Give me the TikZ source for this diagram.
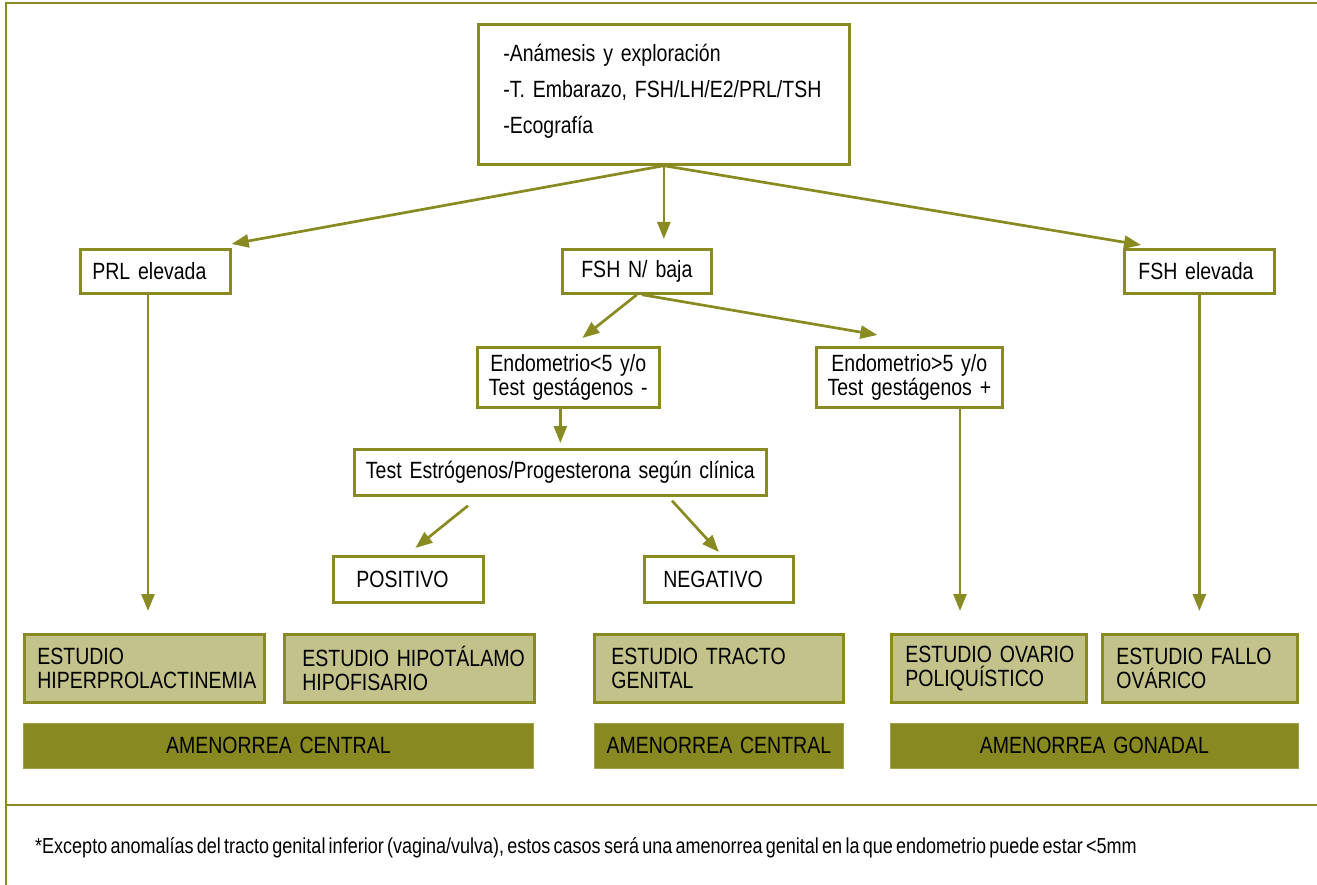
\documentclass[tikz,border=0pt]{standalone}
\usepackage{fontspec}
\setmainfont{Liberation Sans}[FakeStretch=0.83,WordSpace=0.65]
\usetikzlibrary{arrows.meta,calc}
\definecolor{oliveline}{RGB}{138,138,35}
\definecolor{olivelight}{RGB}{194,194,138}
\definecolor{olivebar}{RGB}{137,137,33}
\newcommand\mainsz{\fontsize{23.5}{24}\selectfont}
\newcommand\notesz{\fontsize{21.7}{24}\selectfont}
\tikzset{
  bx/.style={draw=oliveline, line width=2.7pt, fill=white, anchor=north west, inner ysep=0pt, font=\mainsz},
  studybox/.style={bx, fill=olivelight},
  barbox/.style={fill=olivebar, draw=olivebar!80!white, line width=0.8pt, anchor=north west, inner sep=0pt, font=\mainsz, align=center},
  arr/.style={draw=oliveline, line width=2.7pt, -{Triangle[length=17pt,width=13pt]}},
  frameline/.style={draw=oliveline, line width=2.7pt}
}
\begin{document}
\begin{tikzpicture}[x=1pt,y=-1pt]
\useasboundingbox (0,0) rectangle (1317,885);
% frame
\draw[frameline] (6,886) -- (6,3) -- (1318,3);
\draw[frameline] (6,805) -- (1318,805);
% top box
\node[bx, minimum width=371, minimum height=140, inner xsep=25pt, text width=321pt, align=left] (top) at (477,23)
  {\mbox{-Anámesis y exploración}\\[12pt]\mbox{-T. Embarazo, FSH/LH/E2/PRL/TSH}\\[12pt]-Ecografía\\[-14pt]\mbox{}};
% second level
\node[bx, minimum width=150, minimum height=44, inner xsep=12pt, text width=126pt, align=left] (prl) at (79,248) {PRL elevada};
\node[bx, minimum width=149, minimum height=44, inner xsep=4pt, text width=141pt, align=center] (fshn) at (561,248) {FSH N/ baja};
\node[bx, minimum width=150, minimum height=44, inner xsep=14pt, text width=122pt, align=left] (fshe) at (1123,248) {FSH elevada};
% third level
\node[bx, minimum width=182, minimum height=60, inner xsep=4pt, text width=174pt, align=center] (endo1) at (476,346) {Endometrio<5 y/o\\Test gestágenos -};
\node[bx, minimum width=186, minimum height=60, inner xsep=4pt, text width=178pt, align=center] (endo2) at (815,346) {Endometrio>5 y/o\\Test gestágenos +};
\node[bx, minimum width=412, minimum height=46, inner xsep=4pt, text width=404pt, align=center] (test) at (353,448) {Test Estrógenos/Progesterona según clínica};
\node[bx, minimum width=150, minimum height=46, inner xsep=23pt, text width=104pt, align=left] (pos) at (332,555) {POSITIVO};
\node[bx, minimum width=149, minimum height=46, inner xsep=19pt, text width=111pt, align=left] (neg) at (643,555) {NEGATIVO};
% study boxes
\node[studybox, minimum width=240, minimum height=68, inner xsep=13pt, text width=214pt, align=left] (e1) at (23,633) {\mbox{ESTUDIO}\\\mbox{HIPERPROLACTINEMIA}};
\node[studybox, minimum width=250, minimum height=68, inner xsep=18pt, text width=214pt, align=left] (e2) at (283,633) {\mbox{ESTUDIO HIPOTÁLAMO}\\\mbox{HIPOFISARIO}};
\node[studybox, minimum width=249, minimum height=68, inner xsep=17pt, text width=215pt, align=left] (e3) at (593,633) {\mbox{ESTUDIO TRACTO}\\\mbox{GENITAL}};
\node[studybox, minimum width=195, minimum height=68, inner xsep=14pt, text width=167pt, align=left] (e4) at (890,633) {\mbox{ESTUDIO OVARIO}\\\mbox{POLIQUÍSTICO}};
\node[studybox, minimum width=195, minimum height=68, inner xsep=14pt, text width=167pt, align=left] (e5) at (1101,633) {\mbox{ESTUDIO FALLO}\\\mbox{OVÁRICO}};
% bars
\node[barbox, minimum width=510, minimum height=45, text width=510pt] (b1) at (23,723) {AMENORREA CENTRAL};
\node[barbox, minimum width=249, minimum height=45, text width=249pt] (b2) at (594,723) {AMENORREA CENTRAL};
\node[barbox, minimum width=408, minimum height=45, text width=408pt] (b3) at (890,723) {AMENORREA GONADAL};
% footnote
\node[anchor=base west, font=\notesz, inner sep=0pt] (note) at (35,853) {*Excepto anomalías del tracto genital inferior (vagina/vulva), estos casos será una amenorrea genital en la que endometrio puede estar <5mm};
% connectors
\draw[arr] (top.south) -- ($(prl.north east)+(0,-4)$);
\draw[arr] (top.south) -- ($(top.south |- fshn.north)+(0,-9)$);
\draw[arr] (top.south) -- ($(fshe.north west)+(18,-3)$);
\draw[arr] (fshn.south) -- ($(endo1.north)+(14,-8)$);
\draw[arr] ($(fshn.south)+(5,0)$) -- ($(endo2.north)+(-32,-11)$);
\draw[arr] (test.north |- endo1.south) -- ($(test.north)+(0,-5)$);
\draw[arr] ($(test.south west)+(115,9)$) -- ($(pos.north)+(7,-7)$);
\draw[arr] ($(test.south west)+(319,4)$) -- ($(neg.north)+(0,-3)$);
\coordinate (p1) at ($(prl.south west)+(69,0)$);
\coordinate (p2) at ($(e1.north)+(0,-22)$);
\coordinate (p3) at ($(endo2.south west)+(145,0)$);
\draw[arr] (p1) -- (p1 |- p2);
\draw[arr] (p3) -- (p3 |- p2);
\draw[arr] (fshe.south) -- (fshe.south |- p2);
\end{tikzpicture}
\end{document}
